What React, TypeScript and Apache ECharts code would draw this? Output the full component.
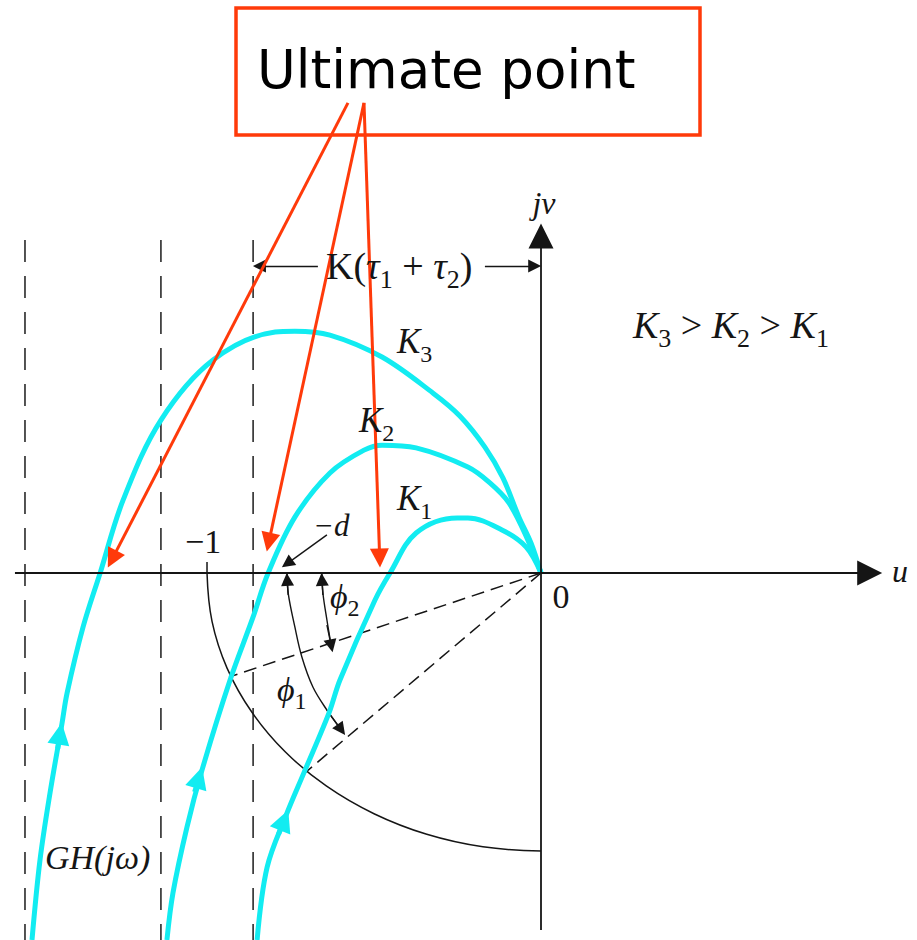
import React, { useEffect, useRef } from "react";
import * as echarts from "echarts";

// ---- Diagram coordinate system (u = real axis, v = imaginary axis) ----
const U_MIN = -1.6198;
const U_MAX = 1.1257;
const V_MIN = -1.3201;
const V_MAX = 2.0612;

// Nyquist curves GH(jω) for three gains (travelled bottom -> origin)
const curveK3: number[][] = [
  [-1.524, -1.32], [-1.5, -1.032], [-1.47, -0.791], [-1.434, -0.54], [-1.419, -0.432],
  [-1.371, -0.194], [-1.32, 0], [-1.251, 0.263], [-1.138, 0.55], [-0.982, 0.766],
  [-0.796, 0.867], [-0.737, 0.87], [-0.632, 0.856], [-0.476, 0.777], [-0.323, 0.647],
  [-0.243, 0.565], [-0.168, 0.453], [-0.114, 0.342], [-0.066, 0.201], [-0.03, 0.108], [0, 0],
];
const curveK2: number[][] = [
  [-1.12, -1.32], [-1.102, -1.151], [-1.06, -0.914], [-1.015, -0.709], [-0.931, -0.385],
  [-0.862, -0.158], [-0.817, 0], [-0.737, 0.201], [-0.632, 0.36], [-0.53, 0.442],
  [-0.476, 0.46], [-0.374, 0.45], [-0.219, 0.381], [-0.153, 0.324], [-0.096, 0.252],
  [-0.04, 0.12], [0, 0],
];
const curveK1: number[][] = [
  [-0.85, -1.32], [-0.82, -1.058], [-0.763, -0.871], [-0.71, -0.719], [-0.635, -0.504],
  [-0.602, -0.385], [-0.497, -0.097], [-0.452, 0], [-0.374, 0.144], [-0.251, 0.198],
  [-0.219, 0.198], [-0.117, 0.155], [-0.045, 0.094], [0, 0],
];
// direction arrowheads on the curves: [start, head]
const curveArrows: number[][][] = [
  [[-1.447, -0.632], [-1.44, -0.578]],
  [[-1.037, -0.788], [-1.024, -0.736]],
  [[-0.786, -0.94], [-0.769, -0.889]],
];

// unit circle arc from -1 down to -j
const unitArc: number[][] = [
  [-1, 0], [-0.985, -0.174], [-0.94, -0.342], [-0.866, -0.5], [-0.766, -0.643],
  [-0.643, -0.766], [-0.5, -0.866], [-0.342, -0.94], [-0.174, -0.985], [0, -1.0],
];
const minusOneTick: number[][] = [[-1, 0.04], [-1, 0]];

// vertical asymptotes u = -K(τ1+τ2)
const asymptoteU: number[] = [-1.545, -1.138, -0.862];
const asymptoteTop = 1.198;

// rays from the origin to the unit circle crossings
const rays: number[][][] = [
  [[0, 0], [-0.934, -0.374]],
  [[0, 0], [-0.707, -0.719]],
];

// angle arcs ϕ1, ϕ2
const phi1Arc: number[][] = [
  [-0.76, 0], [-0.757, -0.072], [-0.737, -0.194], [-0.716, -0.302], [-0.683, -0.41],
  [-0.641, -0.493], [-0.598, -0.564],
];
const phi2Arc: number[][] = [[-0.656, 0], [-0.653, -0.072], [-0.641, -0.169], [-0.628, -0.262]];

// small black arrows: [start, head]
const smallArrows: number[][][] = [
  [[-0.757, -0.079], [-0.76, -0.023]], // ϕ1 top
  [[-0.641, -0.493], [-0.598, -0.564]], // ϕ1 bottom
  [[-0.653, -0.079], [-0.656, -0.023]], // ϕ2 top
  [[-0.641, -0.187], [-0.628, -0.262]], // ϕ2 bottom
  [[-0.641, 0.137], [-0.76, 0.034]], // −d pointer
  [[-0.668, 1.104], [-0.843, 1.104]], // dimension left
  [[-0.168, 1.104], [-0.019, 1.104]], // dimension right
];

// coordinate axes: [start, arrow]
const axesLines: number[][][] = [
  [[-1.575, 0], [0.984, 0]],
  [[0, -1.284], [0, 1.212]],
];

// red call-out arrows from the "Ultimate point" box
const redArrows: number[][][] = [
  [[-0.578, 1.691], [-1.284, 0.05]],
  [[-0.53, 1.691], [-0.815, 0.111]],
  [[-0.53, 1.691], [-0.483, 0.054]],
];

const CYAN = "#12ecf1";
const RED = "#ff3a0a";
const INK = "#151515";
const SERIF = '"Liberation Serif", "Times New Roman", serif';

function lineS(data: number[][], color: string, width: number, type: any = "solid", smooth: any = false, z = 2) {
  return {
    type: "line",
    data,
    symbol: "none",
    showSymbol: false,
    smooth,
    clip: false,
    silent: true,
    z,
    lineStyle: { color, width, type, cap: "butt" },
  };
}

function arrowS(items: number[][][], color: string, width: number, size: number[], z: number) {
  return {
    type: "lines",
    coordinateSystem: "cartesian2d",
    polyline: false,
    silent: true,
    z,
    symbol: ["none", "triangle"],
    symbolSize: size,
    lineStyle: { color, width, opacity: 1, curveness: 0 },
    itemStyle: { color },
    data: items.map((c) => ({ coords: c })),
  };
}

function subLabel(x: number, yBottom: number, text: string, main: number, sub: number) {
  return {
    type: "text",
    x,
    y: yBottom,
    z: 50,
    style: {
      text,
      align: "left",
      textAlign: "left",
      verticalAlign: "bottom",
      textVerticalAlign: "bottom",
      fill: INK,
      rich: {
        k: { fontFamily: SERIF, fontStyle: "italic", fontSize: main, lineHeight: main, verticalAlign: "bottom", padding: [0, 0, 7, 0], fill: INK, color: INK },
        g: { fontFamily: SERIF, fontStyle: "normal", fontSize: main, lineHeight: main, verticalAlign: "bottom", padding: [0, 0, 7, 0], fill: INK, color: INK },
        s: { fontFamily: SERIF, fontStyle: "normal", fontSize: sub, lineHeight: sub, verticalAlign: "bottom", fill: INK, color: INK },
      },
    },
  };
}

function plainLabel(x: number, y: number, text: string, size: number, italic: boolean, align = "left") {
  return {
    type: "text",
    x,
    y,
    z: 50,
    style: {
      text,
      align,
      textAlign: align,
      verticalAlign: "middle",
      textVerticalAlign: "middle",
      fontFamily: SERIF,
      fontStyle: italic ? "italic" : "normal",
      fontSize: size,
      fill: INK,
    },
  };
}

export default function App() {
  const ref = useRef<HTMLDivElement>(null);
  useEffect(() => {
    document.body.style.margin = "0";
    const chart = echarts.init(ref.current!, null, { renderer: "svg" });
    const series: any[] = [];
    asymptoteU.forEach((u) => {
      series.push(lineS([[u, asymptoteTop], [u, V_MIN]], "#2a2a2a", 1.6, [22, 14], false, 1));
    });
    rays.forEach((r) => series.push(lineS(r, INK, 1.5, [13, 7], false, 2)));
    series.push(lineS(unitArc, INK, 1.5, "solid", 0.4, 2));
    series.push(lineS(minusOneTick, INK, 1.5, "solid", false, 2));
    series.push(lineS(phi1Arc, INK, 1.4, "solid", 0.35, 2));
    series.push(lineS(phi2Arc, INK, 1.4, "solid", 0.35, 2));
    series.push(arrowS(smallArrows, INK, 1.4, [10, 13], 3));
    series.push(lineS(curveK3, CYAN, 5, "solid", 0.35, 5));
    series.push(lineS(curveK2, CYAN, 5, "solid", 0.35, 5));
    series.push(lineS(curveK1, CYAN, 5, "solid", 0.35, 5));
    series.push(arrowS(curveArrows, CYAN, 5, [22, 22], 6));
    series.push(arrowS(axesLines, INK, 1.8, [24, 25], 7));
    series.push(arrowS(redArrows, RED, 3, [16, 19], 10));

    const graphic: any[] = [
      {
        type: "rect",
        shape: { x: 236, y: 8, width: 464, height: 127 },
        style: { fill: "rgba(255,255,255,0)", stroke: RED, lineWidth: 3.5 },
        z: 40,
      },
      {
        type: "text",
        x: 257,
        y: 69,
        z: 50,
        style: {
          text: "Ultimate point",
          align: "left",
          textAlign: "left",
          verticalAlign: "middle",
          textVerticalAlign: "middle",
          fontFamily: '"DejaVu Sans", Verdana, sans-serif',
          fontSize: 53,
          fill: "#000000",
        },
      },
      plainLabel(544, 203, "jν", 32, true, "center"),
      subLabel(633, 351, "{k|K}{s|3}{g| > }{k|K}{s|2}{g| > }{k|K}{s|1}", 38, 26),
      subLabel(397, 366, "{k|K}{s|3}", 35, 24),
      subLabel(359, 445, "{k|K}{s|2}", 35, 24),
      subLabel(397, 523, "{k|K}{s|1}", 35, 24),
      subLabel(326, 292, "{g|K(}{k|τ}{s|1}{g| + }{k|τ}{s|2}{g|)}", 38, 26),
      subLabel(330, 620, "{k|ϕ}{s|2}", 34, 24),
      subLabel(277, 713, "{k|ϕ}{s|1}", 34, 24),
      plainLabel(185, 541, "−1", 34, false),
      plainLabel(313, 525, "−d", 31, true),
      plainLabel(561, 596, "0", 34, false, "center"),
      plainLabel(892, 571, "u", 32, true),
      plainLabel(45, 857, "GH(jω)", 34, true),
    ];

    chart.setOption({
      animation: false,
      backgroundColor: "#ffffff",
      grid: { left: 0, top: 0, right: 0, bottom: 0, containLabel: false },
      xAxis: { type: "value", min: U_MIN, max: U_MAX, show: false },
      yAxis: { type: "value", min: V_MIN, max: V_MAX, show: false },
      tooltip: { show: false },
      series,
      graphic,
    });
    return () => chart.dispose();
  }, []);
  return <div ref={ref} style={{ width: 917, height: 940 }} />;
}
